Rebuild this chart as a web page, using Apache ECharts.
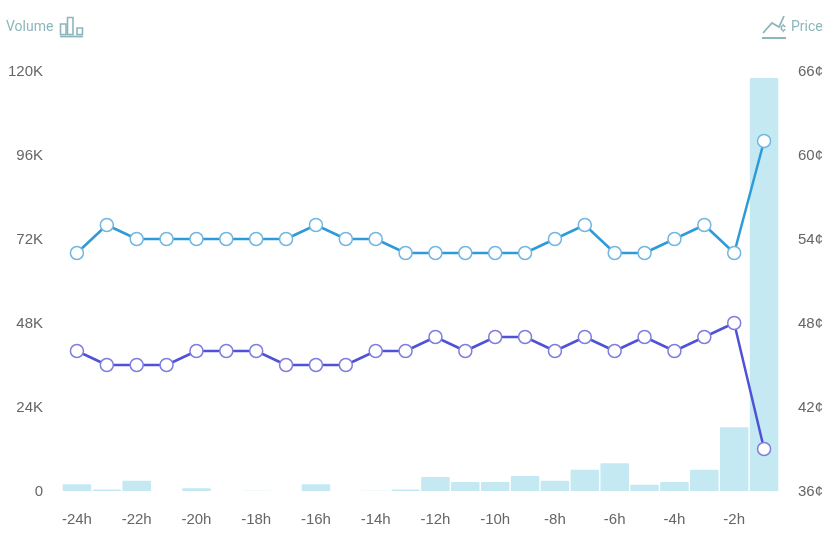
<!DOCTYPE html>
<html>
<head>
<meta charset="utf-8">
<script src="https://cdn.jsdelivr.net/npm/echarts@6/dist/echarts.min.js"></script>
<style>
  html, body { margin: 0; background: #fff; }
  #chart { width: 830px; height: 540px; }
</style>
</head>
<body>
<div id="chart"></div>
<script>
const hours = ["-24h", "-23h", "-22h", "-21h", "-20h", "-19h", "-18h", "-17h", "-16h", "-15h", "-14h", "-13h",
  "-12h", "-11h", "-10h", "-9h", "-8h", "-7h", "-6h", "-5h", "-4h", "-3h", "-2h", "-1h"];
const volume = [1900, 400, 2900, 0, 800, 0, 100, 0, 1900, 0, 100, 400,
  4000, 2600, 2600, 4300, 2900, 6100, 7900, 1800, 2600, 6100, 18200, 118000];
const priceHigh = [53, 55, 54, 54, 54, 54, 54, 54, 55, 54, 54, 53,
  53, 53, 53, 53, 54, 55, 53, 53, 54, 55, 53, 61];
const priceLow = [46, 45, 45, 45, 46, 46, 46, 45, 45, 45, 46, 46,
  47, 46, 47, 47, 46, 47, 46, 47, 46, 47, 48, 39];

const FONT = "Liberation Sans";
const ICON = "#8db6bc";
const myChart = echarts.init(document.getElementById("chart"));

function priceLine(name, data, lineColor, ringColor) {
  return {
    name: name,
    type: "line",
    yAxisIndex: 1,
    data: data,
    symbol: "circle",
    symbolSize: 13,
    showAllSymbol: true,
    lineStyle: { color: lineColor, width: 2.5 },
    itemStyle: { color: "#fff", borderColor: ringColor, borderWidth: 1.5 },
    z: 3
  };
}

myChart.setOption({
  animation: false,
  grid: { left: 62, right: 51, top: 71, bottom: 49 },
  xAxis: {
    type: "category",
    data: hours,
    axisLine: { show: false },
    axisTick: { show: false },
    axisLabel: { interval: 1, color: "#666", fontFamily: FONT, fontSize: 15, margin: 21 }
  },
  yAxis: [{
    type: "value",
    min: 0,
    max: 120000,
    interval: 24000,
    axisLine: { show: false },
    axisTick: { show: false },
    splitLine: { show: false },
    axisLabel: {
      color: "#666", fontFamily: FONT, fontSize: 15, margin: 19,
      // nudges the text just below the tick
      verticalAlign: "top", lineHeight: 1,
      formatter: v => v === 0 ? "0" : (v / 1000) + "K"
    }
  }, {
    type: "value",
    min: 36,
    max: 66,
    interval: 6,
    axisLine: { show: false },
    axisTick: { show: false },
    splitLine: { show: false },
    axisLabel: {
      color: "#666", fontFamily: FONT, fontSize: 15, margin: 19,
      verticalAlign: "top", lineHeight: 1,
      formatter: v => v + "¢"
    }
  }],
  series: [{
    name: "Volume",
    type: "bar",
    data: volume,
    barWidth: 28.5,
    itemStyle: { color: "#c4e9f2", borderRadius: [1, 1, 0, 0] },
    z: 1
  },
  priceLine("High", priceHigh, "#2d9bd8", "#72b6e2"),
  priceLine("Low", priceLow, "#4f52d6", "#7f7edf")],
  graphic: [
    { type: "text", left: 6, top: 20, style: { text: "Volume", fill: ICON, font: "14px Roboto" } },
    { type: "text", left: 791, top: 20, style: { text: "Price", fill: ICON, font: "14px Roboto" } },
    // volume icon
    { type: "rect", shape: { x: 60.5, y: 24, width: 5.5, height: 10.5 }, style: { fill: "none", stroke: ICON, lineWidth: 1.6 } },
    { type: "rect", shape: { x: 67.5, y: 17.5, width: 5.5, height: 17 }, style: { fill: "none", stroke: ICON, lineWidth: 1.6 } },
    { type: "rect", shape: { x: 77, y: 28, width: 5.5, height: 6.5 }, style: { fill: "none", stroke: ICON, lineWidth: 1.6 } },
    { type: "line", shape: { x1: 60, y1: 36.5, x2: 83, y2: 36.5 }, style: { stroke: ICON, lineWidth: 1.8 } },
    // price icon
    { type: "polyline", shape: { points: [[763, 33], [772, 23], [779, 27], [784, 16]] }, style: { fill: "none", stroke: ICON, lineWidth: 1.8 } },
    { type: "text", left: 780, top: 23, style: { text: "¢", fill: ICON, font: "bold 11px Roboto" } },
    { type: "line", shape: { x1: 762, y1: 38, x2: 786, y2: 38 }, style: { stroke: ICON, lineWidth: 2 } }
  ]
});
</script>
</body>
</html>
